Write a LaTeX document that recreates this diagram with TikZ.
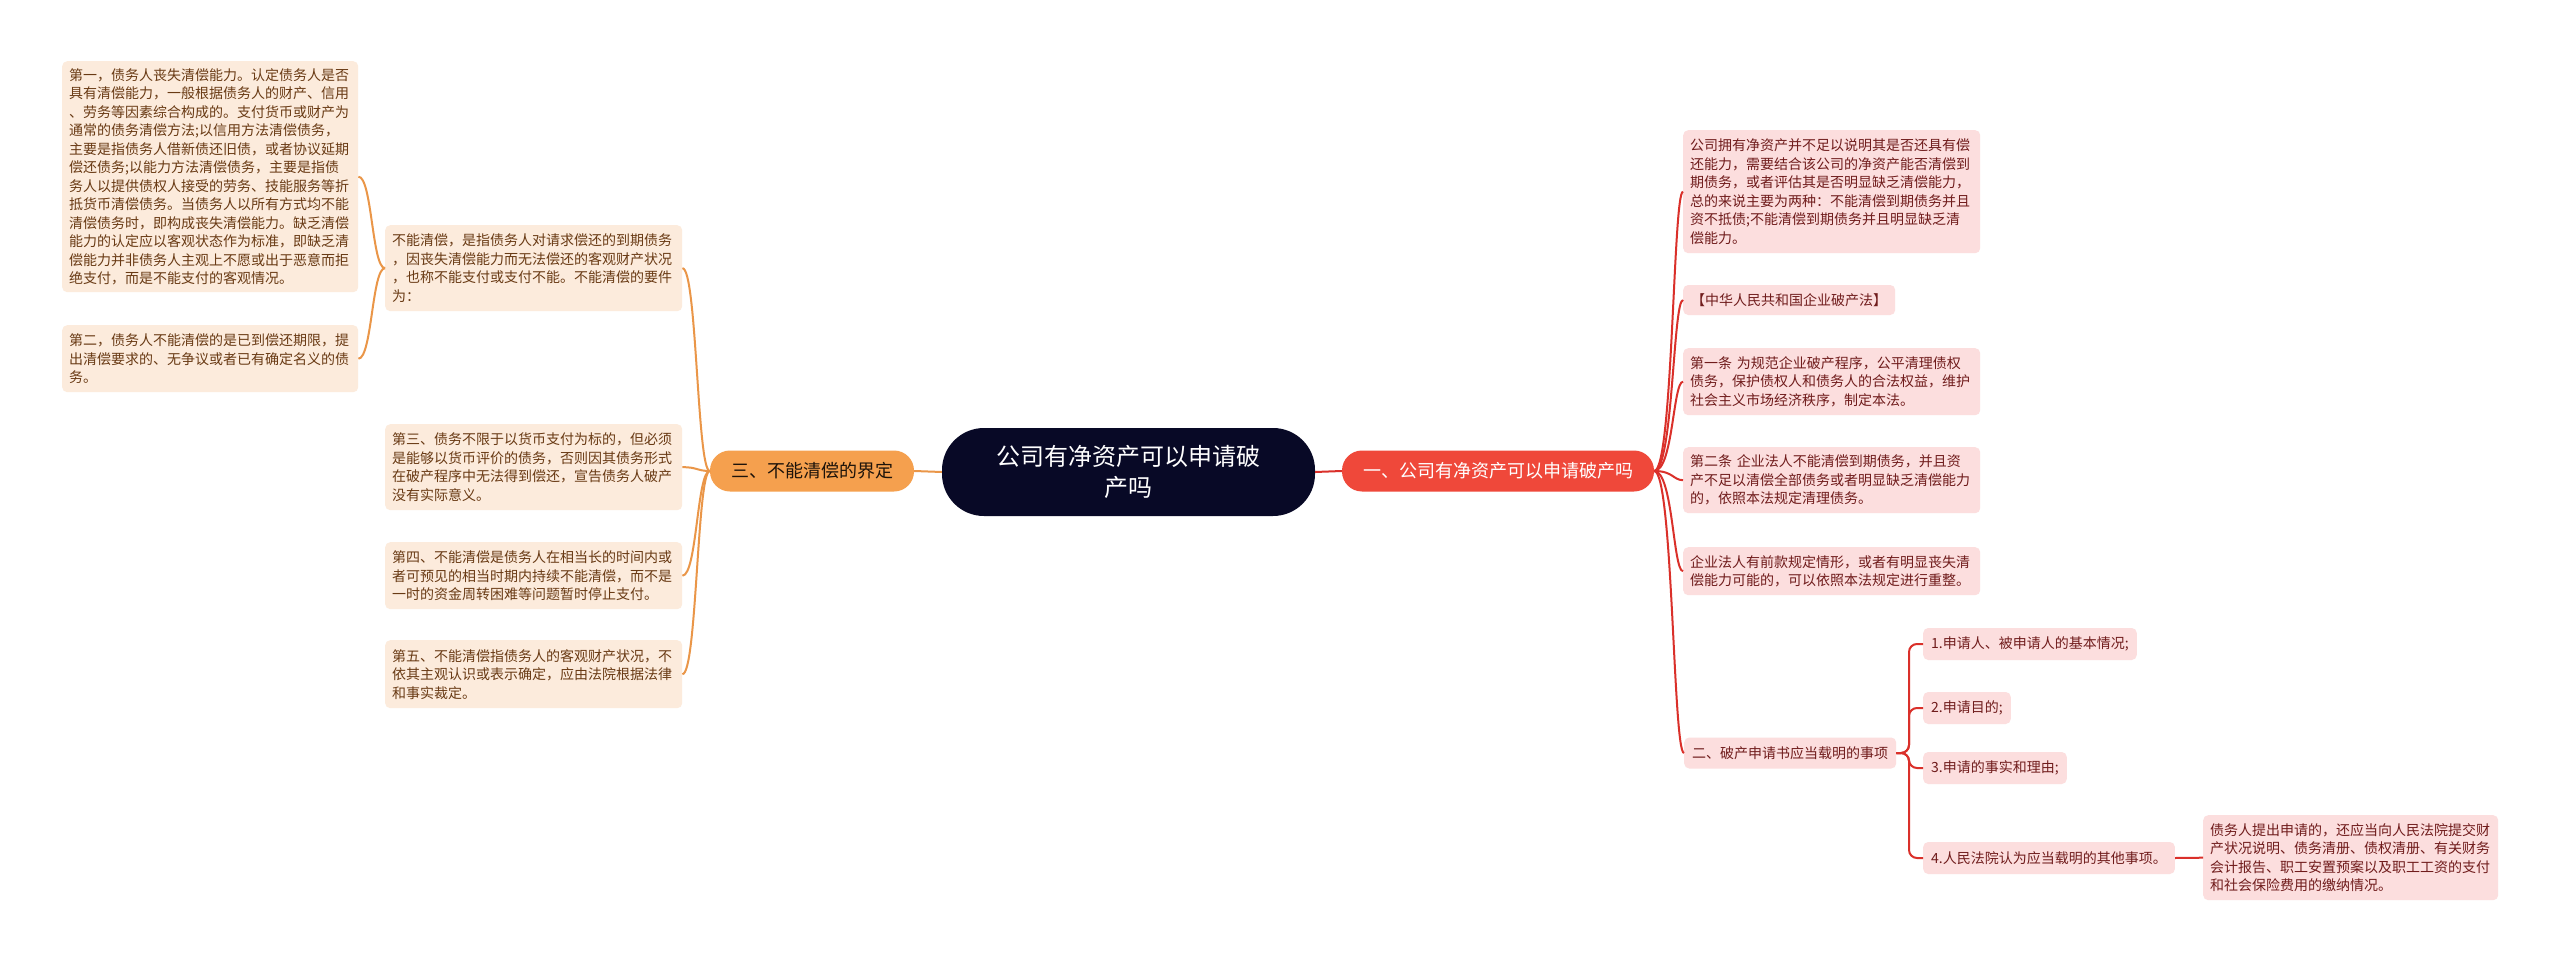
\documentclass[tikz,border=0pt]{standalone}
\usepackage{fontspec}
\setmainfont{Noto Sans CJK SC}
\definecolor{peach}{RGB}{252,235,220}
\definecolor{brownt}{RGB}{105,58,20}
\definecolor{pinkf}{RGB}{252,222,222}
\definecolor{redt}{RGB}{112,28,28}
\definecolor{orangeN}{RGB}{245,160,78}
\definecolor{orangeL}{RGB}{234,150,72}
\definecolor{redN}{RGB}{239,72,58}
\definecolor{redL}{RGB}{218,48,42}
\definecolor{navy}{RGB}{8,9,38}
\newcommand{\smallfs}{\fontsize{14}{18.5}\selectfont}
\begin{document}
\begin{tikzpicture}[x=1pt,y=-1pt,
  lbox/.style={fill=peach, text=brownt, rounded corners=5pt, font=\smallfs, align=left, anchor=north west, inner xsep=7pt, inner ysep=0pt},
  rbox/.style={fill=pinkf, text=redt, rounded corners=5pt, font=\smallfs, align=left, anchor=north west, inner xsep=7pt, inner ysep=0pt},
  rsingle/.style={fill=pinkf, text=redt, rounded corners=5pt, font=\smallfs, anchor=west, inner xsep=8pt, inner ysep=0pt},
  oline/.style={draw=orangeL, line width=2pt},
  rline/.style={draw=redL, line width=2pt},
]
\fill[white] (0,0) rectangle (2560,963);
\useasboundingbox (0,0) rectangle (2560,963);

% ---------- central and main branch nodes ----------
\node[fill=navy, text=white, rounded corners=42pt, minimum width=373pt, minimum height=88pt, align=center, font=\fontsize{24}{31}\selectfont, inner sep=0pt] (C) at (1128.5,472) {公司有净资产可以申请破\\产吗};
\node[fill=orangeN, text=black!85!brown, rounded corners=20pt, minimum width=204pt, minimum height=41pt, font=\fontsize{18}{22}\selectfont, inner sep=0pt] (N3) at (812,471) {三、不能清偿的界定};
\node[fill=redN, text=white, rounded corners=20pt, minimum width=312pt, minimum height=41pt, font=\fontsize{18}{22}\selectfont, inner sep=0pt] (N1) at (1498,471) {一、公司有净资产可以申请破产吗};

% ---------- left side ----------
\node[lbox, text width=282pt, minimum width=296pt, minimum height=231pt] (L1) at (62,61) {第一，债务人丧失清偿能力。认定债务人是否\\具有清偿能力，一般根据债务人的财产、信用\\、劳务等因素综合构成的。支付货币或财产为\\通常的债务清偿方法;以信用方法清偿债务，\\主要是指债务人借新债还旧债，或者协议延期\\偿还债务;以能力方法清偿债务，主要是指债\\务人以提供债权人接受的劳务、技能服务等折\\抵货币清偿债务。当债务人以所有方式均不能\\清偿债务时，即构成丧失清偿能力。缺乏清偿\\能力的认定应以客观状态作为标准，即缺乏清\\偿能力并非债务人主观上不愿或出于恶意而拒\\绝支付，而是不能支付的客观情况。};
\node[lbox, text width=282pt, minimum width=296pt, minimum height=67pt] (L2) at (62,325) {第二，债务人不能清偿的是已到偿还期限，提\\出清偿要求的、无争议或者已有确定名义的债\\务。};
\node[lbox, text width=283pt, minimum width=297pt, minimum height=86pt] (L3) at (385,225) {不能清偿，是指债务人对请求偿还的到期债务\\，因丧失清偿能力而无法偿还的客观财产状况\\，也称不能支付或支付不能。不能清偿的要件\\为：};
\node[lbox, text width=283pt, minimum width=297pt, minimum height=86pt] (L4) at (385,424) {第三、债务不限于以货币支付为标的，但必须\\是能够以货币评价的债务，否则因其债务形式\\在破产程序中无法得到偿还，宣告债务人破产\\没有实际意义。};
\node[lbox, text width=283pt, minimum width=297pt, minimum height=67pt] (L5) at (385,542) {第四、不能清偿是债务人在相当长的时间内或\\者可预见的相当时期内持续不能清偿，而不是\\一时的资金周转困难等问题暂时停止支付。};
\node[lbox, text width=283pt, minimum width=297pt, minimum height=68pt] (L6) at (385,640) {第五、不能清偿指债务人的客观财产状况，不\\依其主观认识或表示确定，应由法院根据法律\\和事实裁定。};

% ---------- right side ----------
\node[rbox, text width=283pt, minimum width=297pt, minimum height=123pt] (R1) at (1683,130) {公司拥有净资产并不足以说明其是否还具有偿\\还能力，需要结合该公司的净资产能否清偿到\\期债务，或者评估其是否明显缺乏清偿能力，\\总的来说主要为两种：不能清偿到期债务并且\\资不抵债;不能清偿到期债务并且明显缺乏清\\偿能力。};
\node[rsingle, minimum width=212pt, minimum height=30pt] (R2) at (1683,300) {【中华人民共和国企业破产法】};
\node[rbox, text width=283pt, minimum width=297pt, minimum height=67pt] (R3) at (1683,348) {第一条 为规范企业破产程序，公平清理债权\\债务，保护债权人和债务人的合法权益，维护\\社会主义市场经济秩序，制定本法。};
\node[rbox, text width=283pt, minimum width=297pt, minimum height=66pt] (R4) at (1683,447) {第二条 企业法人不能清偿到期债务，并且资\\产不足以清偿全部债务或者明显缺乏清偿能力\\的，依照本法规定清理债务。};
\node[rbox, text width=283pt, minimum width=297pt, minimum height=48pt] (R5) at (1683,547) {企业法人有前款规定情形，或者有明显丧失清\\偿能力可能的，可以依照本法规定进行重整。};
\node[rsingle, minimum width=212pt, minimum height=31pt] (R6) at (1684,753) {二、破产申请书应当载明的事项};

\node[rsingle, minimum height=32pt] (Q1) at (1923,644) {1.申请人、被申请人的基本情况;};
\node[rsingle, minimum height=32pt] (Q2) at (1923,708) {2.申请目的;};
\node[rsingle, minimum height=32pt] (Q3) at (1923,768) {3.申请的事实和理由;};
\node[rsingle, minimum height=32pt] (Q4) at (1923,858) {4.人民法院认为应当载明的其他事项。};
\node[rbox, text width=281pt, minimum width=295pt, minimum height=85pt] (D1) at (2203,815) {债务人提出申请的，还应当向人民法院提交财\\产状况说明、债务清册、债权清册、有关财务\\会计报告、职工安置预案以及职工工资的支付\\和社会保险费用的缴纳情况。};

% ---------- connectors (orange) ----------
\draw[oline] (C.west) -- (N3.east);
\draw[oline] (N3.west) .. controls (697,471) and (697,268) .. (L3.east);
\draw[oline] (N3.west) .. controls (697,471) and (697,467) .. (L4.east);
\draw[oline] (N3.west) .. controls (697,471) and (697,575.5) .. (L5.east);
\draw[oline] (N3.west) .. controls (697,471) and (697,674) .. (L6.east);
\draw[oline] (L3.west) .. controls (372,268) and (372,176.5) .. (L1.east);
\draw[oline] (L3.west) .. controls (372,268) and (372,358.5) .. (L2.east);

% ---------- connectors (red) ----------
\draw[rline] (C.east) -- (N1.west);
\draw[rline] (N1.east) .. controls (1673,471) and (1673,191.5) .. (R1.west);
\draw[rline] (N1.east) .. controls (1673,471) and (1673,300) .. (R2.west);
\draw[rline] (N1.east) .. controls (1673,471) and (1673,381.5) .. (R3.west);
\draw[rline] (N1.east) .. controls (1673,471) and (1673,480) .. (R4.west);
\draw[rline] (N1.east) .. controls (1673,471) and (1673,571) .. (R5.west);
\draw[rline] (N1.east) .. controls (1673,471) and (1673,753) .. (R6.west);
\draw[rline, rounded corners=8pt] (R6.east) -- (1909,753) -- (1909,644) -- (Q1.west);
\draw[rline, rounded corners=8pt] (R6.east) -- (1909,753) -- (1909,708) -- (Q2.west);
\draw[rline, rounded corners=8pt] (R6.east) -- (1909,753) -- (1909,768) -- (Q3.west);
\draw[rline, rounded corners=8pt] (R6.east) -- (1909,753) -- (1909,858) -- (Q4.west);
\draw[rline] (Q4.east) -- (D1.west);
\end{tikzpicture}
\end{document}
